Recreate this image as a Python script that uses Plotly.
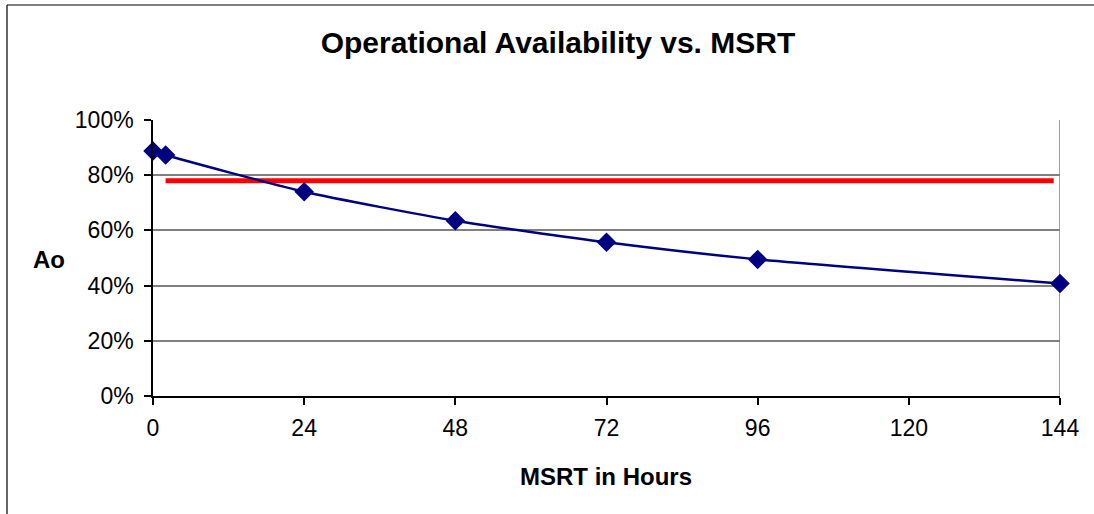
import plotly.graph_objects as go

# Mean supply response time (hours) and resulting operational availability
msrt_hours = [0, 2, 24, 48, 72, 96, 144]
availability = [0.888, 0.873, 0.740, 0.635, 0.557, 0.495, 0.408]

# Availability requirement line
req_hours = [2, 143]
req_level = [0.78, 0.78]

x_ticks = [0, 24, 48, 72, 96, 120, 144]
y_ticks = [0, 0.2, 0.4, 0.6, 0.8, 1.0]

FONT = "Arial, Liberation Sans, sans-serif"
W, H = 1094, 514
ML, MR, MT, MB = 153, 34, 120, 118
PW, PH = W - ML - MR, H - MT - MB

fig = go.Figure()

fig.add_trace(go.Scatter(
    x=req_hours, y=req_level, mode="lines",
    line=dict(color="#FF0000", width=5),
    cliponaxis=False, showlegend=False, hoverinfo="skip",
))

fig.add_trace(go.Scatter(
    x=msrt_hours, y=availability, mode="lines+markers",
    line=dict(color="#000080", width=2.5, shape="spline", smoothing=0.6),
    marker=dict(symbol="diamond", size=15, color="#000080"),
    cliponaxis=False, showlegend=False,
))

# right edge of the plot area
fig.add_shape(type="line", xref="x", yref="paper", x0=144, x1=144, y0=0, y1=1,
              line=dict(color="#808080", width=1.5), layer="below")

# outer chart frame: top and left edges only (the rest runs off the page)
frame_left = (7 - ML) / PW
frame_top = 1 + (MT - 5) / PH
fig.add_shape(type="line", xref="paper", yref="paper",
              x0=frame_left, x1=(W - ML) / PW, y0=frame_top, y1=frame_top,
              line=dict(color="#000000", width=1.2))
fig.add_shape(type="line", xref="paper", yref="paper",
              x0=frame_left, x1=frame_left, y0=frame_top, y1=-MB / PH,
              line=dict(color="#000000", width=1.2))

fig.update_layout(
    width=W, height=H,
    margin=dict(l=ML, r=MR, t=MT, b=MB),
    paper_bgcolor="white", plot_bgcolor="white",
    font=dict(family=FONT, color="black", size=23),
    title=dict(text="<b>Operational Availability vs. MSRT</b>",
               x=558 / W, xanchor="center", y=1 - 42 / H, yanchor="middle",
               font=dict(size=30, family=FONT, color="black")),
    xaxis=dict(range=[0, 144], tickvals=x_ticks, ticktext=[str(v) for v in x_ticks],
               showgrid=False, zeroline=False,
               showline=True, linecolor="#000000", linewidth=1.5,
               ticks="outside", ticklen=7, tickcolor="#000000", tickwidth=1.5,
               ticklabelstandoff=4,
               tickfont=dict(size=23, family=FONT, color="black")),
    yaxis=dict(range=[0, 1], tickvals=y_ticks, tickformat=".0%",
               showgrid=True, gridcolor="#808080", gridwidth=1.5, zeroline=False,
               showline=True, linecolor="#000000", linewidth=1.5,
               ticks="outside", ticklen=7, tickcolor="#000000", tickwidth=1.5,
               ticklabelstandoff=6,
               tickfont=dict(size=23, family=FONT, color="black")),
    annotations=[
        dict(text="<b>Ao</b>", xref="paper", yref="paper",
             x=(48.5 - ML) / PW, y=1 - (259 - MT) / PH,
             xanchor="center", yanchor="middle", showarrow=False,
             font=dict(size=24, family=FONT, color="black")),
        dict(text="<b>MSRT in Hours</b>", xref="paper", yref="paper",
             x=(605.5 - ML) / PW, y=1 - (476 - MT) / PH,
             xanchor="center", yanchor="middle", showarrow=False,
             font=dict(size=24, family=FONT, color="black")),
    ],
)

fig.write_html("out.html")
